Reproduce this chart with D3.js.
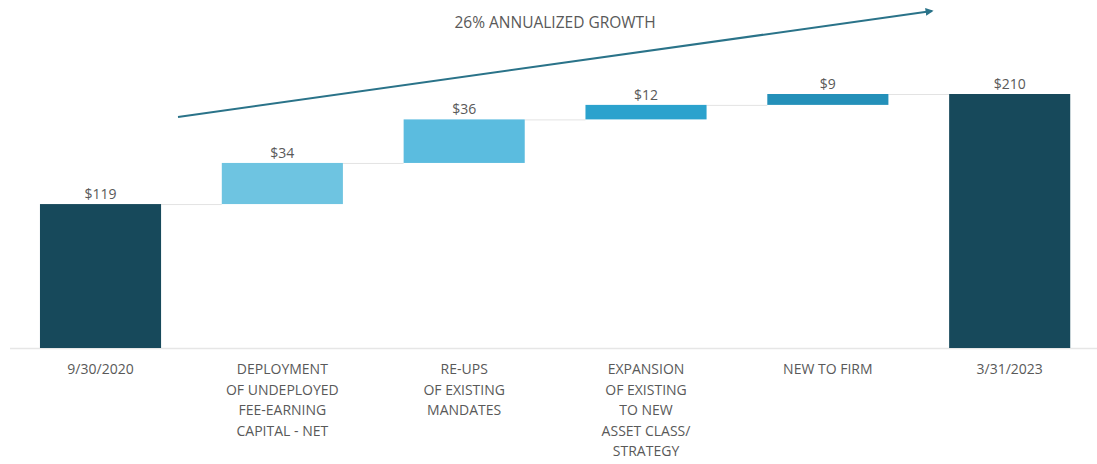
<!DOCTYPE html>
<html>
<head>
<meta charset="utf-8">
<script src="https://cdn.jsdelivr.net/npm/d3@7"></script>
<style>
  body { margin: 0; background: #fff; }
  svg text { font-family: "Open Sans", sans-serif; fill: #595959; }
</style>
</head>
<body>
<svg id="chart" width="1097" height="464"></svg>
<script>
const categories = ["9/30/2020", "DEPLOYMENT|OF UNDEPLOYED|FEE-EARNING|CAPITAL - NET", "RE-UPS|OF EXISTING|MANDATES", "EXPANSION|OF EXISTING|TO NEW|ASSET CLASS/|STRATEGY", "NEW TO FIRM", "3/31/2023"];
const values = [119, 34, 36, 12, 9, 210];
const kinds = ["total", "step", "step", "step", "step", "total"];
const colors = ["#17495b", "#6ec4e1", "#5bbcdf", "#2ba2cd", "#2490b9", "#17495b"];
const growthLabel = "26% ANNUALIZED GROWTH";

const svg = d3.select("#chart");
const baseY = 348;

const x = d3.scaleBand()
    .domain(d3.range(categories.length))
    .range([9.6, 1100.6])
    .paddingInner(0.334)
    .paddingOuter(0.167);

const y = d3.scaleLinear()
    .domain([0, 210])
    .range([baseY, 94]);

// waterfall layout
let run = 0;
const bars = values.map((v, i) => {
    let lo, hi;
    if (kinds[i] === "total") { lo = 0; hi = v; run = v; }
    else { lo = run; hi = run + v; run = hi; }
    return {i, v, lo, hi};
});

// baseline
svg.append("line")
    .attr("x1", 10).attr("x2", 1097)
    .attr("y1", baseY + 0.5).attr("y2", baseY + 0.5)
    .attr("stroke", "#e6e6e6").attr("stroke-width", 1.5);

// connectors
bars.slice(0, -1).forEach(b => {
    svg.append("line")
        .attr("x1", x(b.i) + x.bandwidth())
        .attr("x2", x(b.i + 1))
        .attr("y1", y(b.hi) + 0.5).attr("y2", y(b.hi) + 0.5)
        .attr("stroke", "#e3e3e3").attr("stroke-width", 1);
});

svg.selectAll("rect.bar")
    .data(bars)
    .join("rect")
    .attr("class", "bar")
    .attr("x", d => x(d.i))
    .attr("width", x.bandwidth())
    .attr("y", d => y(d.hi))
    .attr("height", d => y(d.lo) - y(d.hi))
    .attr("fill", d => colors[d.i]);

svg.selectAll("text.val")
    .data(bars)
    .join("text")
    .attr("class", "val")
    .attr("x", d => x(d.i) + x.bandwidth() / 2)
    .attr("y", d => y(d.hi) - 5)
    .attr("text-anchor", "middle")
    .attr("font-size", 14)
    .text(d => "$" + d.v);

const cats = svg.selectAll("text.cat")
    .data(categories)
    .join("text")
    .attr("class", "cat")
    .attr("text-anchor", "middle")
    .attr("font-size", 14)
    .attr("transform", (d, i) => `translate(${x(i) + x.bandwidth() / 2},374)`);
cats.selectAll("tspan")
    .data(d => d.split("|"))
    .join("tspan")
    .attr("x", 0)
    .attr("y", (d, j) => j * 20.5)
    .text(d => d);

// growth arrow
const defs = svg.append("defs");
defs.append("marker")
    .attr("id", "arr")
    .attr("viewBox", "0 0 10 10")
    .attr("refX", 8).attr("refY", 5)
    .attr("markerWidth", 4).attr("markerHeight", 4)
    .attr("orient", "auto")
    .append("path")
    .attr("d", "M0,0 L10,5 L0,10 z")
    .attr("fill", "#2a7389");

svg.append("line")
    .attr("x1", 178).attr("y1", 117)
    .attr("x2", 932).attr("y2", 11)
    .attr("stroke", "#2a7389").attr("stroke-width", 2)
    .attr("marker-end", "url(#arr)");

svg.append("text")
    .attr("x", 555).attr("y", 28)
    .attr("text-anchor", "middle")
    .attr("font-size", 15.5)
    .text(growthLabel);
</script>
</body>
</html>
